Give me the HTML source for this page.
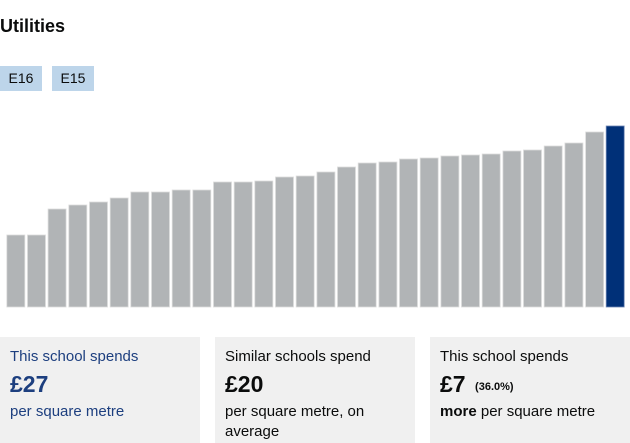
<!DOCTYPE html>
<html><head><meta charset="utf-8"><style>
body{margin:0;width:630px;height:443px;background:#fff;font-family:"Liberation Sans",Arial,sans-serif;position:relative;overflow:hidden;color:#0b0c0c}
.t{position:absolute;left:0;top:16px;font-size:18px;font-weight:bold}
.tag{position:absolute;top:66px;height:25px;width:42px;background:#bdd5ea;font-size:14px;line-height:25px;text-align:center}
.box{position:absolute;top:337px;width:200px;height:106px;background:#f0f0f0}
.box .a{position:absolute;left:10px;top:11px;font-size:15px}
.box .b{position:absolute;left:10px;top:34px;font-size:23px;font-weight:bold}
.box .c{position:absolute;left:10px;top:65px;font-size:15px;line-height:20px;width:185px}
</style></head><body>
<div class="t">Utilities</div>
<div class="tag" style="left:0">E16</div>
<div class="tag" style="left:52px">E15</div>
<svg style="position:absolute;left:0;top:0" width="630" height="310">
<g id="bars"></g>
</svg>
<div class="box" style="left:0;color:#1d3f7f"><div class="a">This school spends</div><div class="b">£27</div><div class="c">per square metre</div></div>
<div class="box" style="left:215px"><div class="a">Similar schools spend</div><div class="b">£20</div><div class="c">per square metre, on average</div></div>
<div class="box" style="left:430px"><div class="a">This school spends</div><div class="b">£7 <span style="font-size:11px;vertical-align:2px">&nbsp;(36.0%)</span></div><div class="c"><b>more</b> per square metre</div></div>
<script>
var tops=[235,235,209,205,202,198,192,192,190,190,182,182,181,177,176,172,167,163,162,159,158,156,155,154,151,150,146,143,132,126];
var s='';
for(var i=0;i<30;i++){var x=6.8+i*20.67;var last=i==29;
s+='<rect x="'+x.toFixed(1)+'" y="'+tops[i]+'" width="18" height="'+(307-tops[i])+'" fill="'+(last?'#003078':'#b1b4b6')+'" stroke="'+(last?'#6f87b5':'#dcdcdc')+'" stroke-width="0.8"/>';}
document.getElementById('bars').innerHTML=s;
</script>
</body></html>
